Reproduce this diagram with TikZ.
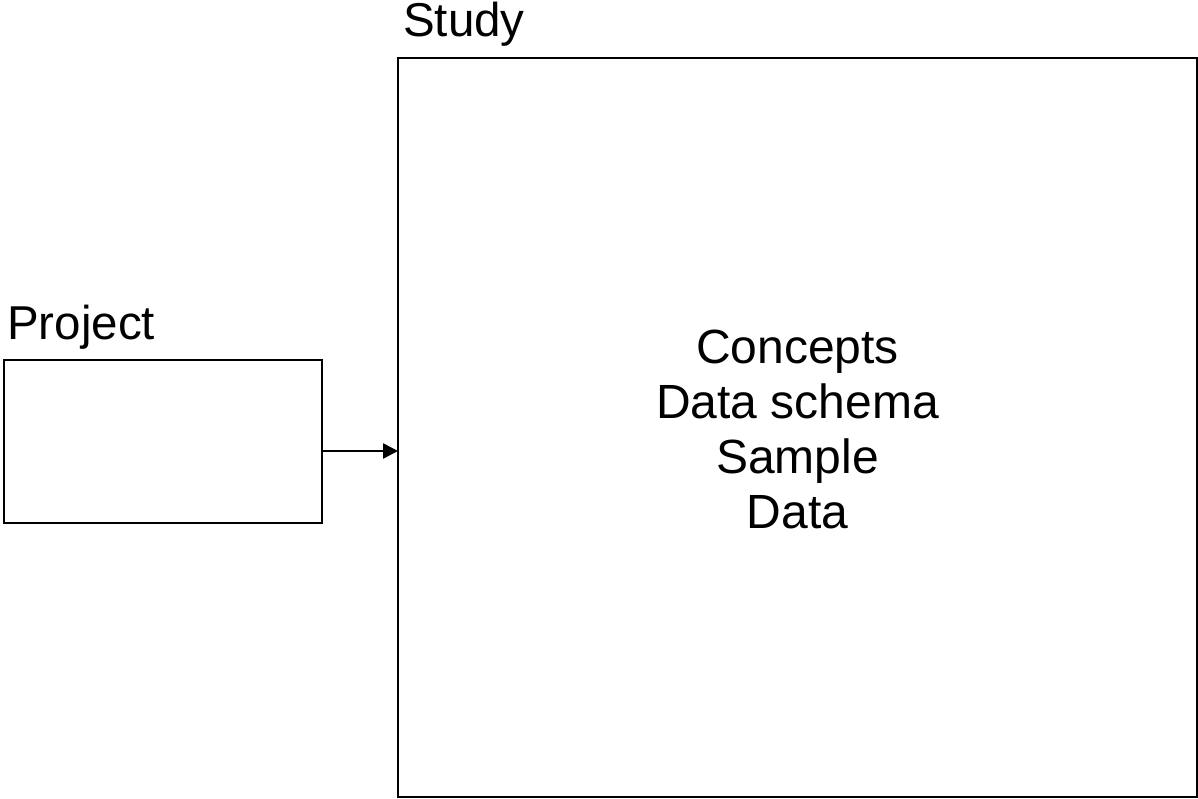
\documentclass[tikz,border=0pt]{standalone}
\usepackage{fontspec}
\setmainfont{Liberation Sans}
\usetikzlibrary{arrows.meta}
\tikzset{
  box/.style={draw=black, line width=2.9pt, rectangle, inner sep=0pt, outer sep=0pt},
  lbl/.style={anchor=base west, inner sep=0pt, font=\fontsize{47.5}{52}\selectfont},
  conn/.style={line width=2.6pt, -{Triangle[length=15pt,width=15pt]}}
}
\begin{document}
\begin{tikzpicture}[x=1pt,y=-1pt]
\useasboundingbox (0,0) rectangle (1198,799);
\node[box, minimum width=799pt, minimum height=739pt] (study) at (797.5,427.5) {};
\node[box, minimum width=318pt, minimum height=163pt] (project) at (163,441.5) {};
\node[lbl] (studylbl) at (403,37) {Study};
\node[lbl] (projectlbl) at (7,339) {Project};
\node[align=center, inner sep=0pt, anchor=base, font=\fontsize{48}{55}\selectfont] (content) at (797.5,528)
  {Concepts\\Data schema\\Sample\\Data};
\coordinate (ay) at (0,451);
\draw[conn] (project.east |- ay) -- (study.west |- ay);
\end{tikzpicture}
\end{document}
